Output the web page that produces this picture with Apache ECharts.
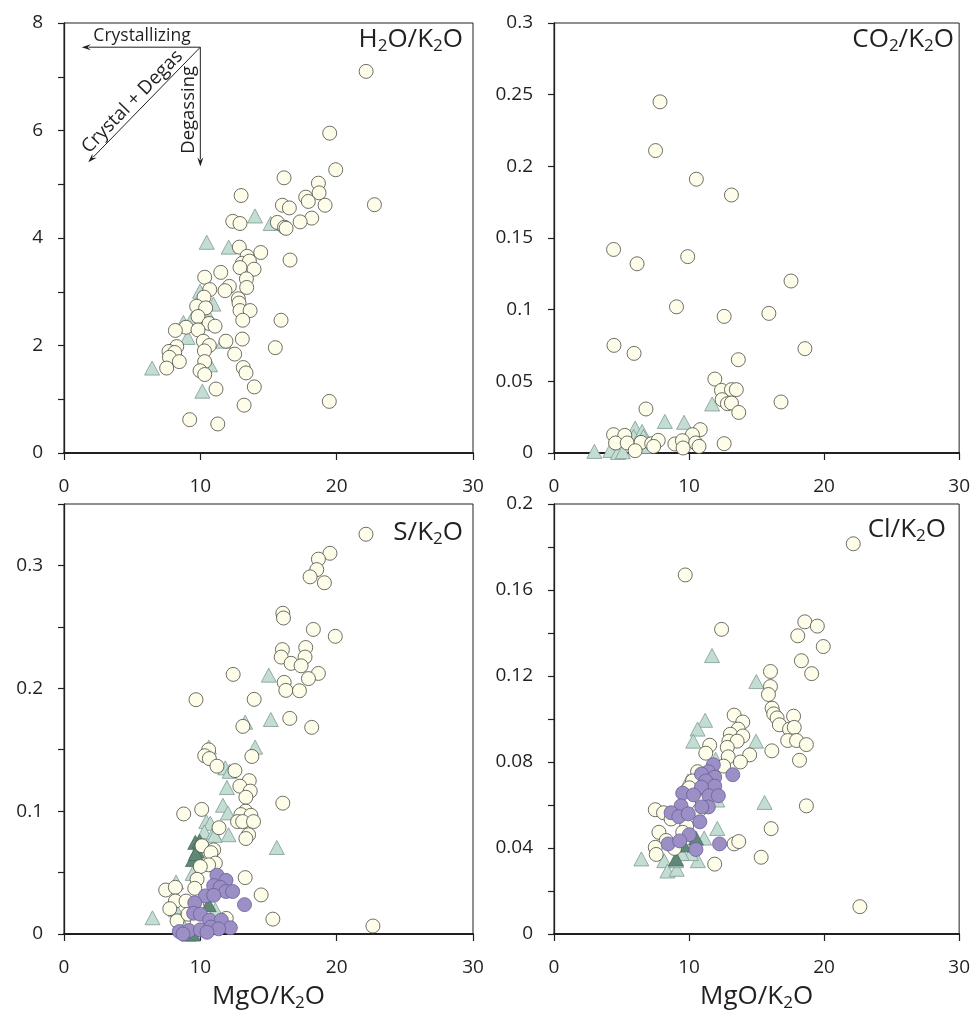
<!DOCTYPE html>
<html>
<head>
<meta charset="utf-8">
<script src="https://cdn.jsdelivr.net/npm/echarts@6/dist/echarts.min.js"></script>
<style>html,body{margin:0;padding:0;background:#fff}#c{width:973px;height:1013px}</style>
</head>
<body>
<div id="c"></div>
<script>
// ---------------- DATA ([MgO/K2O, ratio]) ----------------
const xTicks = [0, 10, 20, 30];

// Panel 1: H2O/K2O
const h2oCircles = [[22.16,7.10],[19.49,5.95],[19.93,5.27],[16.14,5.12],[18.66,5.02],[12.99,4.79],[18.71,4.84],[17.73,4.76],[17.92,4.68],[19.15,4.61],[22.77,4.62],[16.02,4.61],[16.53,4.56],[18.17,4.37],[12.38,4.31],[12.91,4.27],[15.65,4.29],[16.17,4.20],[16.29,4.18],[17.32,4.30],[12.86,3.83],[14.43,3.73],[13.43,3.66],[16.58,3.59],[13.08,3.53],[13.60,3.57],[12.91,3.45],[13.94,3.42],[11.50,3.36],[10.32,3.27],[13.38,3.24],[12.13,3.10],[13.40,3.08],[10.69,3.04],[11.81,3.02],[12.79,2.87],[10.27,2.90],[12.84,2.79],[9.73,2.73],[10.39,2.70],[12.91,2.65],[13.65,2.65],[9.83,2.54],[13.11,2.47],[15.92,2.47],[10.64,2.41],[11.08,2.36],[8.95,2.34],[8.17,2.28],[9.83,2.29],[10.22,2.08],[11.88,2.08],[13.08,2.12],[10.66,2.00],[15.50,1.96],[8.27,1.98],[7.70,1.89],[10.30,1.90],[8.12,1.87],[12.52,1.84],[7.73,1.78],[8.46,1.70],[10.32,1.70],[7.53,1.58],[13.15,1.59],[9.98,1.53],[13.35,1.49],[10.32,1.46],[11.15,1.19],[13.96,1.23],[19.46,0.96],[13.21,0.89],[9.22,0.62],[11.28,0.54]];
const h2oTriangles = [[14.01,4.41],[15.16,4.27],[10.47,3.92],[12.08,3.83],[9.98,3.01],[10.96,2.77],[8.76,2.43],[9.37,2.49],[9.07,2.15],[6.46,1.58],[10.71,1.64],[10.15,1.15],[11.69,2.08],[10.59,2.55]];

// Panel 2: CO2/K2O
const co2Circles = [[7.85,0.245],[7.52,0.211],[10.54,0.191],[13.14,0.180],[4.41,0.142],[6.15,0.132],[9.90,0.137],[17.55,0.120],[9.07,0.102],[12.60,0.0953],[15.91,0.0974],[4.44,0.0751],[5.93,0.0695],[18.58,0.0728],[13.65,0.0651],[11.91,0.0516],[12.40,0.0437],[13.14,0.0442],[13.50,0.0442],[12.45,0.0372],[12.84,0.0344],[13.14,0.0349],[16.81,0.0356],[13.68,0.0283],[6.81,0.0307],[10.83,0.0163],[10.25,0.0128],[4.41,0.0128],[5.24,0.0123],[4.56,0.0070],[5.42,0.0070],[6.45,0.0074],[7.23,0.0065],[7.72,0.0088],[8.95,0.0063],[9.51,0.0086],[10.49,0.0070],[10.74,0.0046],[12.60,0.0065],[6.01,0.0016],[9.56,0.0035],[7.38,0.0046]];
const co2Triangles = [[2.99,0.0011],[4.17,0.0018],[4.73,0.0004],[5.10,0.0009],[6.01,0.0174],[6.52,0.0151],[6.62,0.0116],[5.90,0.0116],[8.21,0.0220],[9.63,0.0214],[11.71,0.0342],[6.08,0.0070],[6.69,0.0046]];

// Panel 3: S/K2O
const sCircles = [[22.15,0.3254],[19.51,0.3099],[18.66,0.3051],[18.54,0.2966],[18.05,0.2907],[19.10,0.2859],[16.05,0.2611],[16.10,0.2572],[18.29,0.2479],[19.90,0.2423],[16.02,0.2315],[17.73,0.2332],[15.93,0.2254],[17.68,0.2254],[16.66,0.2203],[17.39,0.2183],[18.66,0.2121],[17.93,0.2079],[12.41,0.2113],[16.15,0.2048],[16.27,0.1983],[17.27,0.1980],[9.68,0.1907],[13.95,0.1910],[16.56,0.1755],[18.17,0.1682],[13.12,0.1690],[10.61,0.1499],[10.32,0.1451],[10.66,0.1428],[13.78,0.1445],[11.22,0.1366],[12.54,0.1330],[13.59,0.1248],[12.90,0.1203],[13.66,0.1163],[13.34,0.1113],[16.05,0.1065],[10.10,0.1014],[8.78,0.0977],[13.32,0.1000],[12.98,0.0972],[13.71,0.0966],[12.73,0.0915],[13.10,0.0915],[13.90,0.0915],[11.37,0.0865],[13.54,0.0808],[13.34,0.0777],[10.12,0.0718],[10.98,0.0685],[10.78,0.0662],[11.10,0.0577],[10.61,0.0563],[10.00,0.0549],[13.29,0.0459],[9.76,0.0445],[9.59,0.0372],[7.46,0.0358],[8.17,0.0380],[14.46,0.0318],[8.17,0.0268],[8.95,0.0268],[7.76,0.0206],[9.76,0.0225],[8.29,0.0107],[9.10,0.0161],[15.32,0.0121],[22.66,0.0065],[11.90,0.0127],[9.76,0.0085]];
const sTriangles = [[15.02,0.2107],[15.17,0.1746],[13.29,0.1724],[14.02,0.1521],[10.63,0.1521],[11.83,0.1352],[12.15,0.1324],[11.95,0.1192],[11.66,0.1048],[12.02,0.0986],[10.44,0.0915],[10.73,0.0901],[10.29,0.0831],[10.98,0.0823],[12.07,0.0808],[15.61,0.0704],[10.00,0.0732],[9.44,0.0493],[8.22,0.0423],[6.49,0.0132],[8.22,0.0197],[8.54,0.0113],[11.10,0.0197],[11.05,0.0803]];
const sDarkTriangles = [[9.63,0.0746],[9.95,0.0755],[9.76,0.0676],[9.46,0.0606],[9.66,0.0654],[10.61,0.0239],[9.15,0.0],[9.46,0.0]];
const sPurple = [[11.22,0.0479],[11.88,0.0437],[10.98,0.0394],[11.46,0.0380],[11.88,0.0346],[12.37,0.0346],[10.37,0.0310],[10.98,0.0315],[9.59,0.0254],[13.24,0.0239],[9.51,0.0169],[10.00,0.0161],[10.68,0.0113],[11.54,0.0113],[12.20,0.0051],[8.46,0.0020],[9.17,0.0028],[10.00,0.0034],[10.78,0.0056],[11.34,0.0042],[10.49,0.0014],[8.73,0.0]];

// Panel 4: Cl/K2O
const clCircles = [[22.16,0.1815],[9.72,0.1670],[12.41,0.1417],[18.57,0.1452],[19.50,0.1432],[18.05,0.1387],[19.94,0.1337],[18.32,0.1271],[19.08,0.1211],[16.03,0.1221],[16.03,0.1151],[15.88,0.1114],[16.15,0.1050],[16.27,0.1024],[16.52,0.1005],[16.69,0.0973],[17.74,0.1013],[17.44,0.0953],[17.79,0.0961],[17.30,0.0900],[17.96,0.0900],[18.69,0.0881],[18.18,0.0808],[18.69,0.0596],[16.13,0.0852],[13.34,0.1018],[13.98,0.0986],[13.64,0.0953],[13.06,0.0929],[13.98,0.0921],[12.95,0.0897],[13.56,0.0897],[12.83,0.0868],[12.90,0.0824],[14.49,0.0833],[13.80,0.0800],[12.56,0.0781],[11.53,0.0878],[11.24,0.0841],[10.63,0.0755],[10.26,0.0712],[10.02,0.0680],[7.50,0.0578],[8.11,0.0564],[8.67,0.0535],[7.77,0.0473],[8.31,0.0435],[7.50,0.0403],[7.57,0.0370],[8.92,0.0398],[9.82,0.0502],[9.53,0.0473],[13.34,0.0419],[13.68,0.0430],[16.08,0.0490],[15.34,0.0357],[11.90,0.0325],[22.65,0.0127],[10.99,0.0615],[10.75,0.0575]];
const clTriangles = [[11.70,0.1295],[14.98,0.1174],[11.19,0.0994],[10.63,0.0953],[10.31,0.0897],[14.96,0.0897],[11.97,0.0812],[9.92,0.0712],[12.09,0.0623],[15.59,0.0612],[12.09,0.0491],[11.12,0.0446],[6.47,0.0349],[8.16,0.0341],[8.40,0.0293],[9.09,0.0301],[10.65,0.0341],[10.14,0.0374],[9.46,0.0374],[9.04,0.0341]];
const clDarkTriangles = [[9.04,0.0349],[9.60,0.0414],[10.51,0.0446]];
const clPurple = [[11.80,0.0787],[11.43,0.0755],[10.92,0.0744],[13.24,0.0741],[11.90,0.0729],[11.24,0.0712],[11.90,0.0688],[10.92,0.0683],[9.53,0.0655],[10.33,0.0647],[11.48,0.0643],[12.17,0.0643],[11.43,0.0591],[10.94,0.0591],[9.41,0.0596],[8.67,0.0564],[9.24,0.0546],[9.94,0.0559],[10.80,0.0522],[10.02,0.0462],[8.45,0.0419],[9.31,0.0433],[12.26,0.0419],[10.51,0.0393]];

// Panel titles
const panelTitles = ['H{s|2}O/K{s|2}O', 'CO{s|2}/K{s|2}O', 'S/K{s|2}O', 'Cl/K{s|2}O'];
const xAxisTitle = 'MgO/K{s|2}O';

// Annotation arrows in panel 1 (data units)
const arrowOrigin = [10, 7.55];
const arrowCrystal = [1.3, 7.55];
const arrowDegas = [10, 5.33];
const arrowBoth = [1.78, 5.41];

// ---------------- STYLE ----------------
const FONT = 'Open Sans';
const INK = '#231f20';
const CREAM = '#fdfde9', CREAM_B = '#4a4a44';
const TEAL = '#c3ddd3', TEAL_B = '#7d9c92';
const DARK = '#5f8877', DARK_B = '#4a6b5e';
const PURP = '#9c8fc6', PURP_B = '#6a5e98';

const grids = [
  {left: 64, top: 23, width: 409, height: 430},
  {left: 554, top: 23, width: 408, height: 430},
  {left: 64, top: 504, width: 409, height: 430},
  {left: 554, top: 504, width: 408, height: 430}
].map(g => Object.assign({show: true, borderColor: INK, borderWidth: 1, backgroundColor: 'transparent'}, g));

const subRich = {
  s: {fontFamily: FONT, fontSize: 17, lineHeight: 14, verticalAlign: 'bottom', color: INK}
};

function fmtNum(v) { return String(parseFloat(v.toFixed(3))); }

function xAxisCfg(i) {
  const o = {
    gridIndex: i, type: 'value', min: xTicks[0], max: xTicks[xTicks.length - 1], interval: 10,
    axisLine: {show: true, onZero: false, lineStyle: {color: INK, width: 2}},
    axisTick: {show: true, inside: false, length: 7, lineStyle: {color: INK, width: 1.2}},
    axisLabel: {show: true, margin: 24, fontFamily: FONT, fontSize: 19, color: INK},
    splitLine: {show: false}
  };
  if (i >= 2) {
    o.name = xAxisTitle;
    o.nameLocation = 'middle';
    o.nameGap = 48;
    o.nameMoveOverlap = false;
    o.nameTextStyle = {fontFamily: FONT, fontSize: 26, color: INK, lineHeight: 30,
      rich: {s: {fontFamily: FONT, fontSize: 17, lineHeight: 14, verticalAlign: 'bottom', color: INK}}};
  }
  return o;
}
function yAxisCfg(i, max, interval, show) {
  return {
    gridIndex: i, type: 'value', min: 0, max: max, interval: interval,
    axisLine: {show: true, onZero: false, lineStyle: {color: INK, width: 1.3}},
    axisTick: {show: true, inside: false, length: 6, lineStyle: {color: INK, width: 1.2}},
    axisLabel: {show: true, margin: 21, fontFamily: FONT, fontSize: 19, color: INK,
      formatter: v => show(v) ? fmtNum(v) : ''},
    splitLine: {show: false}
  };
}

function sc(name, gi, data, kind) {
  const st = {
    cream: {symbol: 'circle', size: 14, color: CREAM, border: CREAM_B, bw: 0.8},
    purple: {symbol: 'circle', size: 14, color: PURP, border: PURP_B, bw: 0.8},
    teal: {symbol: 'triangle', size: [15, 14], color: TEAL, border: TEAL_B, bw: 0.8},
    dark: {symbol: 'triangle', size: [15, 14], color: DARK, border: DARK_B, bw: 0.8}
  }[kind];
  return {
    name: name, type: 'scatter', xAxisIndex: gi, yAxisIndex: gi, data: data,
    symbol: st.symbol, symbolSize: st.size, clip: false, silent: true,
    itemStyle: {color: st.color, borderColor: st.border, borderWidth: st.bw, opacity: 1},
    emphasis: {disabled: true}
  };
}

const titles = [
  {right: 510, top: 25}, {right: 19, top: 25}, {right: 510, top: 518}, {right: 27, top: 515}
].map((p, i) => Object.assign({
  text: panelTitles[i],
  textStyle: {fontFamily: FONT, fontSize: 26, fontWeight: 'normal', color: INK, lineHeight: 30, rich: subRich},
  padding: 0
}, p));

const option = {
  animation: false,
  backgroundColor: '#ffffff',
  title: titles,
  grid: grids,
  xAxis: [0, 1, 2, 3].map(xAxisCfg),
  yAxis: [
    yAxisCfg(0, 8, 1, v => Math.round(v) % 2 === 0),
    yAxisCfg(1, 0.3, 0.05, v => true),
    yAxisCfg(2, 0.35, 0.05, v => Math.round(v * 100) % 10 === 0),
    yAxisCfg(3, 0.2, 0.02, v => Math.round(v * 100) % 4 === 0)
  ],
  series: [
    sc('h2o-tri', 0, h2oTriangles, 'teal'),
    sc('h2o-circ', 0, h2oCircles, 'cream'),
    sc('co2-tri', 1, co2Triangles, 'teal'),
    sc('co2-circ', 1, co2Circles, 'cream'),
    sc('s-tri', 2, sTriangles, 'teal'),
    sc('s-dark', 2, sDarkTriangles, 'dark'),
    sc('s-circ', 2, sCircles, 'cream'),
    sc('s-purp', 2, sPurple, 'purple'),
    sc('cl-tri', 3, clTriangles, 'teal'),
    sc('cl-dark', 3, clDarkTriangles, 'dark'),
    sc('cl-circ', 3, clCircles, 'cream'),
    sc('cl-purp', 3, clPurple, 'purple')
  ]
};

const chart = echarts.init(document.getElementById('c'), null, {renderer: 'canvas'});
chart.setOption(option);

// ---- annotation arrows (panel 1), positioned via the panel's scales ----
function P(pt) { return chart.convertToPixel({gridIndex: 0}, pt); }
function arrow(a, b) {
  const dx = b[0] - a[0], dy = b[1] - a[1];
  const L = Math.sqrt(dx * dx + dy * dy);
  const ux = dx / L, uy = dy / L, nx = -uy, ny = ux;
  const hl = 9, hw = 3;
  const bx = b[0] - ux * hl, by = b[1] - uy * hl;
  return [
    {type: 'line', shape: {x1: a[0], y1: a[1], x2: bx + ux * 2, y2: by + uy * 2},
      style: {stroke: INK, lineWidth: 1}, silent: true, z: 100},
    {type: 'polygon', shape: {points: [[b[0], b[1]], [bx + nx * hw, by + ny * hw], [b[0] - ux * (hl - 3), b[1] - uy * (hl - 3)], [bx - nx * hw, by - ny * hw]]},
      style: {fill: INK}, silent: true, z: 100}
  ];
}
const o = P(arrowOrigin), pc = P(arrowCrystal), pd = P(arrowDegas), pb = P(arrowBoth);
const elems = [].concat(arrow(o, pc), arrow(o, pd), arrow(o, pb));
elems.push({type: 'text', x: (o[0] + pc[0]) / 2 + 1, y: o[1] - 11, silent: true, z: 100,
  style: {text: 'Crystallizing', fontFamily: FONT, fontSize: 17.5, fill: INK, align: 'center', verticalAlign: 'middle'}});
elems.push({type: 'text', x: o[0] - 12, y: (o[1] + pd[1]) / 2 + 3, rotation: Math.PI / 2, silent: true, z: 100,
  style: {text: 'Degassing', fontFamily: FONT, fontSize: 18.5, fill: INK, align: 'center', verticalAlign: 'middle'}});
{
  const mx = (o[0] + pb[0]) / 2, my = (o[1] + pb[1]) / 2;
  const ang = Math.atan2(-(o[1] - pb[1]), o[0] - pb[0]);
  elems.push({type: 'text', x: mx - 12, y: my - 3, rotation: ang, silent: true, z: 100,
    style: {text: 'Crystal + Degas', fontFamily: FONT, fontSize: 19, fill: INK, align: 'center', verticalAlign: 'middle'}});
}
chart.setOption({graphic: {elements: elems}});
</script>
</body>
</html>
